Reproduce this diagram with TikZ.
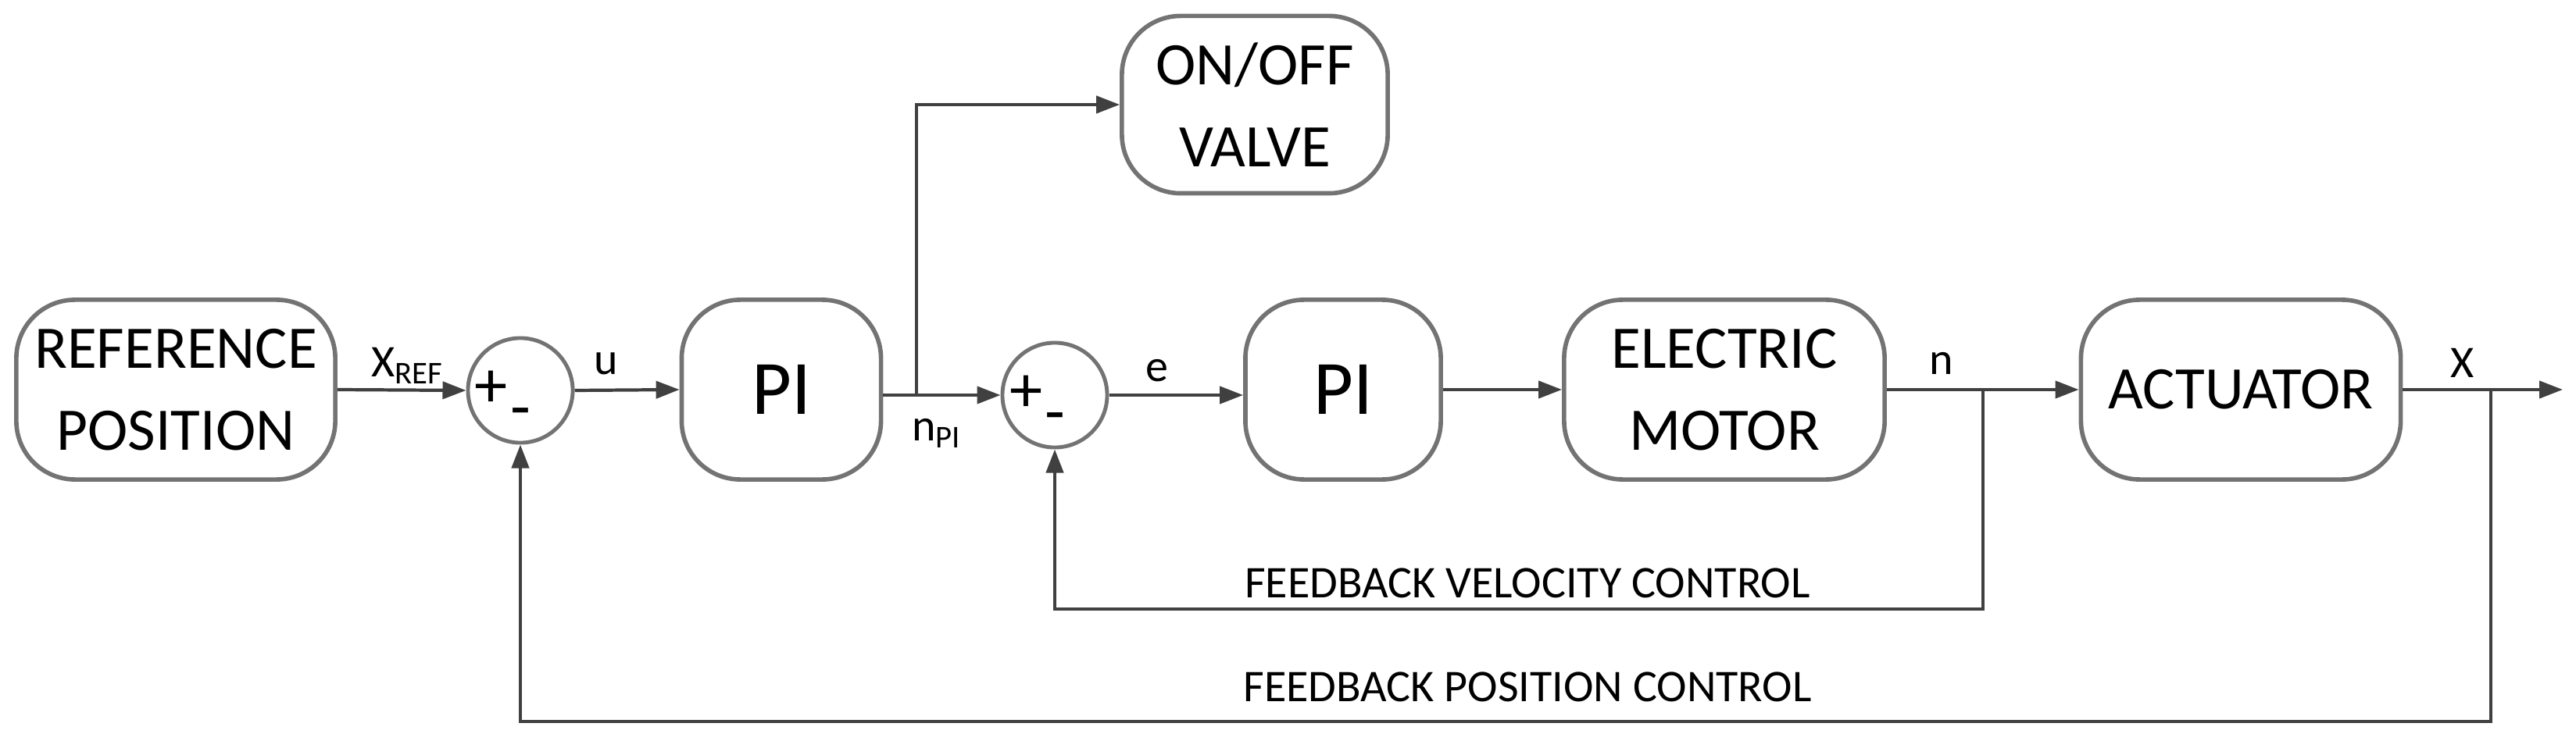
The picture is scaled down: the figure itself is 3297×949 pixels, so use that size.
\documentclass[tikz,border=0pt]{standalone}
\usepackage{fontspec}
\setmainfont{Carlito}
\usetikzlibrary{arrows.meta}
\begin{document}
\begin{tikzpicture}[x=0.01cm,y=-0.01cm,
  blk/.style={draw=black!55,line width=1.6pt,rounded corners=0.75cm,align=center,inner sep=0pt,font=\fontsize{22}{26}\selectfont},
  sum/.style={draw=black!55,line width=1.4pt,circle,minimum size=1.34cm,inner sep=0pt},
  ln/.style={draw=black!75,line width=1.2pt},
  ar/.style={ln,-{Triangle[length=0.3cm,width=0.22cm]}},
  pm/.style={font=\fontsize{24}{24}\selectfont},
  lbl/.style={font=\fontsize{16.5}{18}\selectfont}]
\useasboundingbox (0,0) rectangle (3297,949);
\node[blk,minimum width=4.08cm,minimum height=2.3cm] (ref) at (225,499) {REFERENCE\\[4pt]POSITION};
\node[sum] (s1) at (666,500) {};
\node[blk,minimum width=2.55cm,minimum height=2.3cm,font=\fontsize{28}{30}\selectfont] (pi1) at (1000,499) {PI};
\node[blk,minimum width=3.4cm,minimum height=2.27cm] (valve) at (1606,134) {ON/OFF\\[4pt]VALVE};
\node[sum] (s2) at (1350,506) {};
\node[blk,minimum width=2.5cm,minimum height=2.3cm,font=\fontsize{28}{30}\selectfont] (pi2) at (1719,499) {PI};
\node[blk,minimum width=4.1cm,minimum height=2.3cm] (mot) at (2207,499) {ELECTRIC\\[4pt]MOTOR};
\node[blk,minimum width=4.09cm,minimum height=2.3cm] (act) at (2868,499) {ACTUATOR};
\coordinate (b1) at (1173,506);
\coordinate (bn) at (2538,499);
\coordinate (bx) at (3188,499);
\coordinate (out) at (3280,499);
\draw[ar] (ref.east) -- (s1.west);
\draw[ar] (s1.east) -- (pi1.west);
\draw[ar] (pi1.east|-b1) -- (s2.west);
\draw[ar] (b1) |- (valve.west);
\draw[ar] (s2.east) -- (s2.east-|pi2.west);
\draw[ar] (pi2.east) -- (mot.west);
\draw[ar] (mot.east) -- (act.west);
\draw[ar] (act.east) -- (out);
\draw[ar] (bn) |- (1350,780) -- (s2.south);
\draw[ar] (bx) |- (666,924) -- (s1.south);
\node[pm] at (629,498) {+};
\node[pm] at (666,536) {-};
\node[pm] at (1313,504) {+};
\node[pm] at (1350,542) {-};
\node[lbl] at (522,468) {X\textsubscript{REF}};
\node[lbl] at (776,466) {u};
\node[lbl] at (1199,555) {n\textsubscript{PI}};
\node[lbl] at (1481,475) {e};
\node[lbl] at (2485,465) {n};
\node[lbl] at (3152,465) {X};
\node[lbl] at (1955,747) {FEEDBACK VELOCITY CONTROL};
\node[lbl] at (1955,880) {FEEDBACK POSITION CONTROL};
\end{tikzpicture}
\end{document}
